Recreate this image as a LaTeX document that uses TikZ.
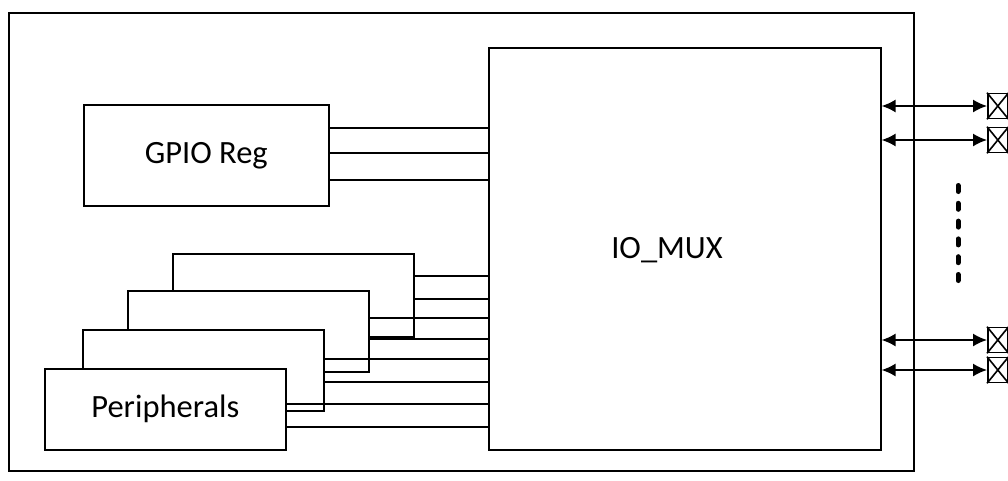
\documentclass[tikz,border=0pt]{standalone}
\usepackage{fontspec}
\setmainfont{Carlito}
\usetikzlibrary{arrows.meta}
\begin{document}
\begin{tikzpicture}[x=1pt,y=-1pt,
  line width=1.6pt,
  lbl/.style={font=\fontsize{32.5}{38}\selectfont},
  blk/.style={draw, fill=white, anchor=north west, inner sep=0pt, lbl},
  pbox/.style={blk, minimum width=241pt, minimum height=81pt},
  pin/.style={draw, fill=white, anchor=west, inner sep=0pt,
    minimum width=20pt, minimum height=25pt},
  bus/.style={line width=1.6pt},
  bidir/.style={{Latex[length=14pt,width=13pt]}-{Latex[length=14pt,width=13pt]}}
]
\useasboundingbox (0,0) rectangle (1008,480);
% outer frame
\node[blk, minimum width=905pt, minimum height=458pt] (outer) at (8,12) {};
% IO_MUX
\node[blk, minimum width=392pt, minimum height=402pt] (mux) at (488,47) {};
\node[lbl] (muxlabel) at (667,250) {IO\_MUX};
% GPIO Reg
\node[blk, minimum width=245pt, minimum height=101pt] (gpio) at (83,104) {GPIO Reg};
\draw[bus] (gpio.east |- 0,128) -- (mux.west |- 0,128);
\draw[bus] (gpio.east |- 0,153) -- (mux.west |- 0,153);
\draw[bus] (gpio.east |- 0,180) -- (mux.west |- 0,180);
% peripheral stack
\node[pbox, minimum height=83pt] (p1) at (172,253) {};
\draw[bus] (p1.east |- 0,276) -- (mux.west |- 0,276);
\draw[bus] (p1.east |- 0,299) -- (mux.west |- 0,299);
\node[pbox] (p2) at (127,290) {};
\draw[bus] (p2.east |- 0,318) -- (mux.west |- 0,318);
\draw[bus] (p2.east |- 0,339) -- (mux.west |- 0,339);
\node[pbox] (p3) at (82,329) {};
\draw[bus] (p3.east |- 0,359) -- (mux.west |- 0,359);
\draw[bus] (p3.east |- 0,382) -- (mux.west |- 0,382);
\node[pbox] (p4) at (44,368) {Peripherals};
\draw[bus] (p4.east |- 0,404) -- (mux.west |- 0,404);
\draw[bus] (p4.east |- 0,427) -- (mux.west |- 0,427);
% pins
\foreach \n/\y in {1/106,2/140,3/340,4/370}{
  \node[pin] (pin\n) at (987,\y) {};
  \draw (pin\n.north west) -- (pin\n.south east) (pin\n.north east) -- (pin\n.south west);
  \draw[bidir] (mux.east |- pin\n.west) -- (pin\n.west);
}
% ellipsis dots
\coordinate (dtop) at (958,185.5);
\coordinate (dbot) at (958,282);
\draw[line width=5pt, line cap=round, dash pattern=on 6pt off 11.8pt] (dtop) -- (dbot);
\end{tikzpicture}
\end{document}
